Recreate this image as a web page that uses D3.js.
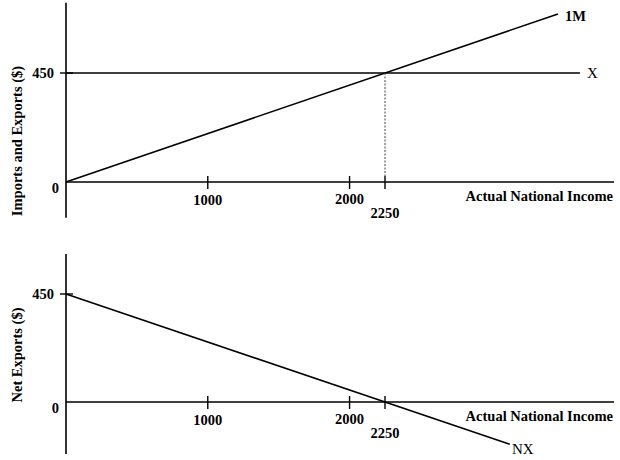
<!DOCTYPE html>
<html>
<head>
<meta charset="utf-8">
<script src="https://cdn.jsdelivr.net/npm/d3@7"></script>
<style>
  body { margin: 0; background: #fff; }
  text { font-family: "Liberation Serif", "Times New Roman", serif; font-weight: bold; font-size: 14.5px; fill: #000; }
</style>
</head>
<body>
<svg width="620" height="460"></svg>
<script>
// values
const incomeTicks = [1000, 2000, 2250];
const incomeTickLabelDy = [23, 22, 36];   // 2250 sits on a second row
const valueTicks = [0, 450];
const equilibriumIncome = 2250;
const exportsLevel = 450;
const exportsIncome = [0, 3625];
const importsIncome = [0, 3470];
const importsValue = [0, 694];
const netExportsIncome = [0, 3130];
const netExportsValue = [450, -176];
const incomeAxisEnd = 3865;

const svg = d3.select('svg');

const x = d3.scaleLinear().domain([0, 2250]).range([66, 385]);
const yTop = d3.scaleLinear().domain([0, 450]).range([182, 73]);
const yBot = d3.scaleLinear().domain([0, 450]).range([402, 294]);

const line = d3.line();

function panel(y, yExtent, title, titleY) {
    const g = svg.append('g');
    // axes
    g.append('path')
        .attr('d', line([[x(0), y(yExtent[0])], [x(0), y(yExtent[1])]]))
        .attr('stroke', 'black').attr('stroke-width', 1.6).attr('fill', 'none');
    g.append('path')
        .attr('d', line([[x(0), y(0)], [x(incomeAxisEnd), y(0)]]))
        .attr('stroke', 'black').attr('stroke-width', 1.6).attr('fill', 'none');

    // income ticks, crossing the axis
    g.selectAll('.xt')
        .data(incomeTicks)
        .join('path')
        .attr('d', d => line([[x(d), y(0) - 6], [x(d), y(0) + 7]]))
        .attr('stroke', 'black').attr('stroke-width', 1.4);
    g.selectAll('.xl')
        .data(incomeTicks)
        .join('text')
        .attr('x', d => x(d))
        .attr('y', (d, i) => y(0) + incomeTickLabelDy[i])
        .attr('text-anchor', 'middle')
        .text(d => d);

    // value ticks
    g.append('path')
        .attr('d', line([[x(0) - 6, y(450)], [x(0) + 7, y(450)]]))
        .attr('stroke', 'black').attr('stroke-width', 1.4);
    g.selectAll('.yl')
        .data(valueTicks)
        .join('text')
        .attr('x', d => d === 0 ? 59 : 54)
        .attr('y', d => d === 0 ? y(d) + 11 : y(d) + 5)
        .attr('text-anchor', 'end')
        .text(d => d);

    g.append('text')
        .attr('x', 613).attr('y', y(0) + 19)
        .attr('text-anchor', 'end')
        .text('Actual National Income');

    g.append('text')
        .attr('transform', `translate(22,${titleY}) rotate(-90)`)
        .attr('text-anchor', 'middle')
        .text(title);
    return g;
}

const gTop = panel(yTop, [-148, 740], 'Imports and Exports ($)', 141);
const gBot = panel(yBot, [-217, 617], 'Net Exports ($)', 355);

// exports
gTop.append('path')
    .attr('d', line(exportsIncome.map(v => [x(v), yTop(exportsLevel)])))
    .attr('stroke', 'black').attr('stroke-width', 1.6).attr('fill', 'none');
gTop.append('text').attr('x', 587).attr('y', yTop(exportsLevel) + 5).style('font-weight', 'normal').style('font-size', '15px').text('X');

// imports
gTop.append('path')
    .attr('d', line(importsIncome.map((v, i) => [x(v), yTop(importsValue[i])])))
    .attr('stroke', 'black').attr('stroke-width', 1.6).attr('fill', 'none');
gTop.append('text').attr('x', 565).attr('y', 21).text('1M');

// equilibrium dotted guide
gTop.append('path')
    .attr('d', line([[x(equilibriumIncome), yTop(exportsLevel)], [x(equilibriumIncome), yTop(0)]]))
    .attr('stroke', '#444').attr('stroke-width', 1).attr('stroke-dasharray', '2,1.5').attr('fill', 'none');

// net exports
gBot.append('path')
    .attr('d', line(netExportsIncome.map((v, i) => [x(v), yBot(netExportsValue[i])])))
    .attr('stroke', 'black').attr('stroke-width', 1.6).attr('fill', 'none');
gBot.append('text').attr('x', 512).attr('y', 454).style('font-weight', 'normal').style('font-size', '15px').text('NX');
</script>
</body>
</html>
